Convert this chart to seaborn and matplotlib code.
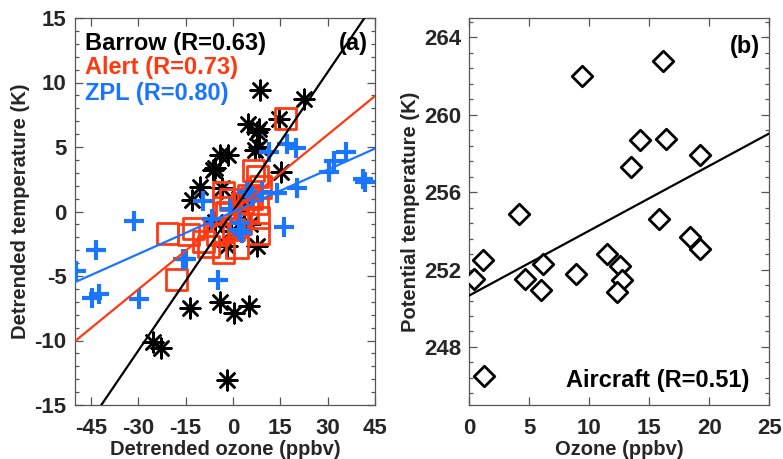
import numpy as np
import pandas as pd
import matplotlib
matplotlib.use("Agg")
import matplotlib.pyplot as plt
from matplotlib.ticker import AutoMinorLocator, FuncFormatter
import seaborn as sns

# ---------------- data ----------------
barrow_x = [8.7, 22.5, 14.6, 4.8, 8.4, 8.2, 7.1, -4.1, -6.2, -5.6, 15.1, -10.4, -13.1,
            -3.5, -5.6, -1.9, 7.7, 5.5, -13.6, -4.1, 0.2, 5.0, -25.3, -22.7, -1.9,
            -1.4, 7.7, 2.0, -0.5, 3.5]
barrow_y = [9.4, 8.7, 7.2, 6.8, 6.4, 5.0, 4.8, 4.4, 3.2, 3.4, 3.1, 1.9, 0.9,
            1.8, -0.8, -2.7, -2.7, -1.0, -7.5, -7.0, -7.9, -7.3, -10.1, -10.6, -13.1,
            4.4, 6.2, 1.0, -1.5, 0.3]

alert_x = [16.7, 6.6, 7.7, -3.0, 5.0, 8.7, -0.9, 7.7, -3.0, -20.6, -14.2, -12.5,
           -9.4, -7.8, -3.0, 1.3, -17.9, 8.2, 8.2, 0.2, -1.9, 4.5, 2.5, 6.0, -5.0, 3.0]
alert_y = [7.2, 3.2, 2.7, 1.5, 1.2, 1.9, 0.9, 0.6, 0.3, -1.7, -1.8, -1.3,
           -2.3, -2.7, -3.2, -2.8, -5.3, -1.7, -0.5, -1.4, -0.1, 0.1, -0.9, 1.0, -1.8, 0.6]

zpl_x = [-9.4, 11.4, 17.2, 19.9, 35.8, 32.1, 30.5, 41.7, 41.3, 20.4, 14.0, 4.5,
         -31.2, 16.1, -43.4, -49.8, -44.5, -42.4, -29.6, -15.8, -4.6, 2.9, 2.3,
         6.1, 9.3, 1.8, -14.7, -1.0, -6.5]
zpl_y = [0.8, 4.6, 5.2, 4.9, 4.6, 3.9, 3.1, 2.3, 2.5, 1.8, 1.4, 1.5,
         -0.7, -1.2, -3.0, -4.6, -6.7, -6.4, -6.8, -3.7, -5.3, -1.7, -0.9,
         1.2, 1.5, -1.4, -3.7, 0.2, -0.6]

# regression lines (slope, intercept) for panel (a)
fit_barrow = (0.36, 0.0)
fit_alert = (0.20, -0.05)
fit_zpl = (0.109, -0.03)

labels_a = ["Barrow (R=0.63)", "Alert (R=0.73)", "ZPL (R=0.80)"]

air_x = [9.42, 16.17, 14.2, 16.4, 13.5, 19.2, 4.1, 15.8, 18.4, 19.2, 1.17, 6.1,
         11.45, 12.56, 0.4, 4.6, 8.9, 12.7, 6.0, 12.3, 1.2]
air_y = [262.0, 262.8, 258.7, 258.75, 257.3, 257.9, 254.85, 254.6, 253.7, 253.05,
         252.5, 252.3, 252.8, 252.2, 251.5, 251.5, 251.76, 251.47, 250.95, 250.85, 246.5]
fit_air = (0.335, 250.66)
label_b = "Aircraft (R=0.51)"

a_xticks = [-45, -30, -15, 0, 15, 30, 45]
a_yticks = [-15, -10, -5, 0, 5, 10, 15]
b_xticks = [0, 5, 10, 15, 20, 25]
b_yticks = [248, 252, 256, 260, 264]

# ---------------- style ----------------
sns.set_theme(style="ticks")
plt.rcParams["font.family"] = ["Liberation Sans", "DejaVu Sans"]
plt.rcParams["font.weight"] = "bold"
plt.rcParams["axes.labelweight"] = "bold"

BLACK = "#000000"
RED = "#FF3A12"
BLUE = "#1A75FF"

fig = plt.figure(figsize=(7.83, 4.59), dpi=100)
axa = fig.add_axes([75 / 783, 1 - 405 / 459, 300 / 783, 387 / 459])
axb = fig.add_axes([469.3 / 783, 1 - 405 / 459, 300 / 783, 387 / 459])

# ---------------- panel (a) ----------------
dfb = pd.DataFrame({"x": barrow_x, "y": barrow_y})
dfa = pd.DataFrame({"x": alert_x, "y": alert_y})
dfz = pd.DataFrame({"x": zpl_x, "y": zpl_y})

sns.scatterplot(data=dfb, x="x", y="y", ax=axa, marker=(8, 2, 0), s=200,
                color=BLACK, linewidth=1.8, zorder=3)
sns.scatterplot(data=dfa, x="x", y="y", ax=axa, marker="s", s=230,
                facecolor="none", edgecolor=RED, linewidth=2.0, zorder=4)
sns.scatterplot(data=dfz, x="x", y="y", ax=axa, marker="+", s=200,
                color=BLUE, linewidth=3.0, zorder=5)

xl = np.array([-50.0, 45.0])
for (m, c), col in zip([fit_barrow, fit_alert, fit_zpl], [BLACK, RED, BLUE]):
    sns.lineplot(x=xl, y=m * xl + c, ax=axa, color=col, linewidth=1.6, zorder=6)

axa.set_xlim(-50, 45)
axa.set_ylim(-15, 15)
axa.set_xticks(a_xticks)
axa.set_yticks(a_yticks)
axa.yaxis.set_minor_locator(AutoMinorLocator(5))
axa.set_xlabel("Detrended ozone (ppbv)", fontsize=14.5, labelpad=1)
axa.set_ylabel("Detrended temperature (K)", fontsize=14.5, labelpad=3)

for lab, col, yy in zip(labels_a, [BLACK, RED, BLUE], [0.917, 0.855, 0.788]):
    axa.text(0.033, yy, lab, transform=axa.transAxes, color=col, fontsize=17,
             fontweight="bold", ha="left", va="baseline", zorder=10)
axa.text(0.977, 0.917, "(a)", transform=axa.transAxes, color=BLACK, fontsize=17,
         fontweight="bold", ha="right", va="baseline", zorder=10)

# ---------------- panel (b) ----------------
dfair = pd.DataFrame({"x": air_x, "y": air_y})
sns.scatterplot(data=dfair, x="x", y="y", ax=axb, marker="D", s=110,
                facecolor="white", edgecolor=BLACK, linewidth=2.0, zorder=4)
xb = np.array([0.0, 25.0])
sns.lineplot(x=xb, y=fit_air[0] * xb + fit_air[1], ax=axb, color=BLACK,
             linewidth=1.6, zorder=3)
axb.set_xlim(0, 25)
axb.set_ylim(245, 265)
axb.set_xticks(b_xticks)
axb.set_yticks(b_yticks)
axb.yaxis.set_minor_locator(AutoMinorLocator(5))
axb.set_xlabel("Ozone (ppbv)", fontsize=14.5, labelpad=1)
axb.set_ylabel("Potential temperature (K)", fontsize=14.5, labelpad=3)
axb.text(0.969, 0.910, "(b)", transform=axb.transAxes, color=BLACK, fontsize=17,
         fontweight="bold", ha="right", va="baseline", zorder=10)
axb.text(0.935, 0.047, label_b, transform=axb.transAxes, color=BLACK, fontsize=17,
         fontweight="bold", ha="right", va="baseline", zorder=10)

for ax in (axa, axb):
    for sp in ax.spines.values():
        sp.set_visible(True)
        sp.set_linewidth(0.9)
        sp.set_color("#555555")
    ax.tick_params(which="both", direction="in", top=True, right=True,
                   color="#555555", width=0.9)
    ax.tick_params(which="major", length=6, labelsize=16, pad=9)
    ax.tick_params(which="minor", length=3)
    ax.tick_params(axis="y", which="major", pad=6)
    ax.grid(False)
    ax.xaxis.set_major_formatter(FuncFormatter(lambda v, p: f"{int(round(v))}"))
    ax.yaxis.set_major_formatter(FuncFormatter(lambda v, p: f"{int(round(v))}"))
    for t in ax.get_xticklabels() + ax.get_yticklabels():
        t.set_fontweight("bold")

fig.savefig("out.png", dpi=100)
